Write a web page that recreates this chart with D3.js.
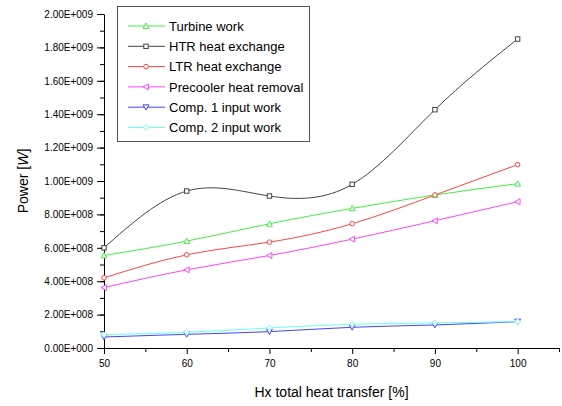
<!DOCTYPE html>
<html>
<head>
<meta charset="utf-8">
<script src="https://cdn.jsdelivr.net/npm/d3@7"></script>
<style>
  body { margin: 0; background: #fff; }
  svg { display: block; font-family: Arial, "Liberation Sans", sans-serif; }
</style>
</head>
<body>
<svg></svg>
<script>
// chart data
const xValues = [50, 60, 70, 80, 90, 100];
const turbine = [5.54e8, 6.40e8, 7.44e8, 8.36e8, 9.16e8, 9.84e8];
const htr = [6.00e8, 9.40e8, 9.10e8, 9.80e8, 1.427e9, 1.850e9];
const ltr = [4.20e8, 5.58e8, 6.34e8, 7.44e8, 9.16e8, 1.098e9];
const precooler = [3.62e8, 4.68e8, 5.54e8, 6.52e8, 7.62e8, 8.76e8];
const comp1 = [6.6e7, 8.2e7, 9.8e7, 1.24e8, 1.38e8, 1.58e8];
const comp2 = [8.0e7, 9.4e7, 1.20e8, 1.42e8, 1.50e8, 1.58e8];
const seriesNames = ['Turbine work', 'HTR heat exchange', 'LTR heat exchange',
  'Precooler heat removal', 'Comp. 1 input work', 'Comp. 2 input work'];
const yTicks = [0, 2e8, 4e8, 6e8, 8e8, 1e9, 1.2e9, 1.4e9, 1.6e9, 1.8e9, 2e9];
const xTicks = [50, 60, 70, 80, 90, 100];

let width = 562;
let height = 406;
let padLeft = 104, padRight = 559, padTop = 14, padBottom = 348;

const series = [
  {name: seriesNames[0], values: turbine, color: '#44ee44', symbol: 'up'},
  {name: seriesNames[1], values: htr, color: '#444444', symbol: 'square'},
  {name: seriesNames[2], values: ltr, color: '#ff4444', symbol: 'circle'},
  {name: seriesNames[3], values: precooler, color: '#ff44ff', symbol: 'left'},
  {name: seriesNames[4], values: comp1, color: '#4444ff', symbol: 'down'},
  {name: seriesNames[5], values: comp2, color: '#66ffff', symbol: 'diamond'}
];

const svg = d3.select('svg').attr('width', width).attr('height', height);

const xScale = d3.scaleLinear().domain([50, 105]).range([padLeft, padRight]);
const yScale = d3.scaleLinear().domain([0, 2e9]).range([padBottom, padTop]);

// axes with minor ticks
const yFmt = (d) => {
  let e = d === 0 ? 0 : Math.floor(Math.log10(d) + 1e-9);
  let m = d === 0 ? 0 : d / Math.pow(10, e);
  return m.toFixed(2) + 'E+' + String(e).padStart(3, '0');
};

svg.append('g').attr('transform', 'translate(' + padLeft + ',0)')
  .call(d3.axisLeft(yScale).tickValues(d3.range(0, 2e9 + 1, 1e8)).tickSize(4).tickFormat(''))
  .call(g => g.select('.domain').remove());
svg.append('g').attr('id', 'y-axis').attr('transform', 'translate(' + padLeft + ',0)')
  .call(d3.axisLeft(yScale).tickValues(yTicks).tickSize(7).tickSizeOuter(0).tickPadding(4).tickFormat(yFmt))
  .call(g => g.selectAll('text').attr('font-size', 10).attr('fill', '#000'));

svg.append('g').attr('transform', 'translate(0,' + padBottom + ')')
  .call(d3.axisBottom(xScale).tickValues([55, 65, 75, 85, 95, 105]).tickSize(4).tickFormat(''))
  .call(g => g.select('.domain').remove());
svg.append('g').attr('id', 'x-axis').attr('transform', 'translate(0,' + padBottom + ')')
  .call(d3.axisBottom(xScale).tickValues(xTicks).tickSize(6).tickSizeOuter(0).tickPadding(6).tickFormat(d3.format('d')))
  .call(g => g.selectAll('text').attr('font-size', 10).attr('fill', '#000'));

// axis titles
svg.append('text').attr('x', (padLeft + padRight) / 2).attr('y', 397)
  .attr('text-anchor', 'middle').attr('font-size', 14).text('Hx total heat transfer [%]');
const yt = svg.append('text').attr('transform', 'translate(28,' + ((padTop + padBottom) / 2) + ') rotate(-90)')
  .attr('text-anchor', 'middle').attr('font-size', 14);
yt.append('tspan').text('Power [');
yt.append('tspan').attr('font-style', 'italic').text('W');
yt.append('tspan').text(']');

const marker = (g, sym, color) => {
  let s = 2.4;
  let p;
  if (sym === 'circle') {
    return g.append('circle').attr('r', 2.3).attr('fill', '#fff').attr('stroke', color);
  } else if (sym === 'square') {
    return g.append('rect').attr('x', -2.2).attr('y', -2.2).attr('width', 4.4).attr('height', 4.4)
      .attr('fill', '#fff').attr('stroke', color);
  } else if (sym === 'up') {
    p = [[0, -s - 0.5], [s + 0.5, s], [-s - 0.5, s]];
  } else if (sym === 'down') {
    p = [[0, s + 0.5], [s + 0.5, -s], [-s - 0.5, -s]];
  } else if (sym === 'left') {
    p = [[-s - 0.5, 0], [s, -s - 0.5], [s, s + 0.5]];
  } else {
    p = [[0, -s - 0.5], [s + 0.5, 0], [0, s + 0.5], [-s - 0.5, 0]];
  }
  return g.append('path').attr('d', 'M' + p.join('L') + 'Z').attr('fill', '#fff').attr('stroke', color);
};

const line = d3.line().x((d, i) => xScale(xValues[i])).y(d => yScale(d)).curve(d3.curveNatural);

series.forEach((s) => {
  svg.append('path').attr('d', line(s.values)).attr('fill', 'none')
    .attr('stroke', s.color).attr('stroke-width', 1);
});
series.forEach((s) => {
  s.values.forEach((v, i) => {
    let g = svg.append('g').attr('transform', 'translate(' + xScale(xValues[i]) + ',' + yScale(v) + ')');
    marker(g, s.symbol, s.color);
  });
});

// legend
const lg = svg.append('g');
lg.append('rect').attr('x', 117.5).attr('y', 6.5).attr('width', 192).attr('height', 135)
  .attr('fill', '#fff').attr('stroke', '#555');
series.forEach((s, i) => {
  let y = 26 + i * 20.3;
  lg.append('line').attr('x1', 128).attr('x2', 165).attr('y1', y).attr('y2', y)
    .attr('stroke', s.color).attr('stroke-width', 1);
  let g = lg.append('g').attr('transform', 'translate(146,' + y + ')');
  marker(g, s.symbol, s.color);
  lg.append('text').attr('x', 169).attr('y', y + 4.6).attr('font-size', 13).text(s.name);
});
</script>
</body>
</html>
